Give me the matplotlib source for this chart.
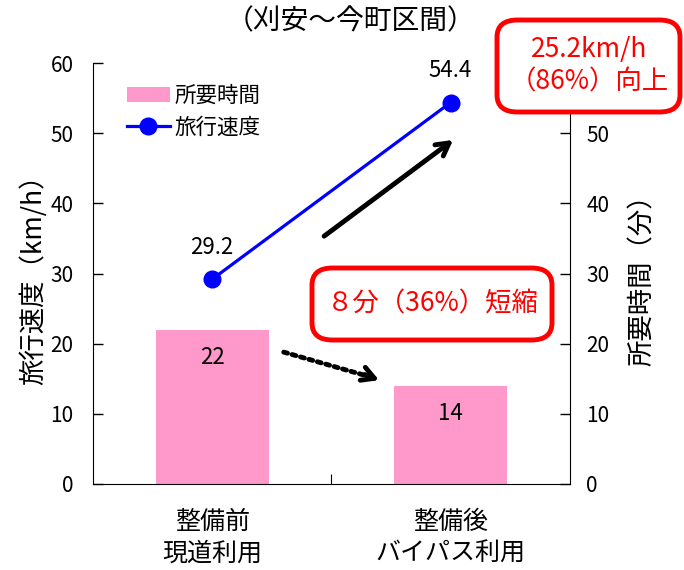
import matplotlib
matplotlib.use('Agg')
import matplotlib.pyplot as plt
import numpy as np
from matplotlib.patches import FancyBboxPatch

plt.rcParams['font.family'] = ['Noto Sans CJK JP', 'DejaVu Sans']

# section data
categories = ['整備前\n現道利用', '整備後\nバイパス利用']
travel_time = [22, 14]          # 所要時間 (分)
travel_speed = [29.2, 54.4]     # 旅行速度 (km/h)

pink = '#FF99CC'
blue = '#0000FF'
red = '#FF0000'

fig = plt.figure(figsize=(6.84, 5.70), dpi=100)
ax = fig.add_axes([0.136, 0.151, 0.697, 0.738])
ax2 = ax.twinx()

x = np.arange(len(categories))

# bars on the right axis, line on the left axis
bars = ax2.bar(x, travel_time, width=0.475, color=pink, label='所要時間', zorder=1)
line, = ax.plot(x, travel_speed, color=blue, lw=2.3, marker='o', markersize=12,
                label='旅行速度', zorder=3)
ax.set_zorder(ax2.get_zorder() + 1)
ax.patch.set_visible(False)

for xi, v in zip(x, travel_time):
    ax2.text(xi, v - 4, f'{v}', ha='center', va='center', fontsize=16)
for xi, v in zip(x, travel_speed):
    ax.text(xi, v + 4.5, f'{v}', ha='center', va='center', fontsize=16)

for a in (ax, ax2):
    a.set_ylim(0, 60)
    a.set_yticks(range(0, 61, 10))
    a.tick_params(axis='y', direction='in', length=7, labelsize=15, width=1)
    a.spines['top'].set_visible(False)
# the top right label sits under the callout box
ax2.set_yticklabels([str(t) for t in range(0, 60, 10)] + [''])
ax.set_xlim(-0.5, 1.5)
ax.set_xticks([0.5])
ax.set_xticklabels([''])
ax.tick_params(axis='x', direction='in', length=7)
ax.tick_params(axis='y', pad=14)
ax2.tick_params(axis='y', pad=12)
ax.spines['right'].set_visible(False)
ax2.spines['left'].set_visible(False)
ax2.spines['bottom'].set_visible(False)

for xi, lab in zip(x, categories):
    ax.text(xi, -3.6, lab, ha='center', va='top', fontsize=18, linespacing=1.25)

ax.set_ylabel('旅行速度（km/h）', fontsize=19, labelpad=2)
ax2.set_ylabel('所要時間（分）', fontsize=19, labelpad=14)

fig.text(0.513, 0.962, '（刈安～今町区間）', ha='center', va='center', fontsize=20)

ax.legend([bars, line], ['所要時間', '旅行速度'], loc='upper left',
          bbox_to_anchor=(0.03, 0.995), frameon=False, fontsize=15.5,
          handlelength=2.0, handletextpad=0.2, labelspacing=0.45)

# change arrows
ax.annotate('', xy=(1.02, 49.3), xytext=(0.46, 35.1),
            arrowprops=dict(arrowstyle='->,head_length=0.9,head_width=0.5',
                            color='black', lw=3.5))
ax.annotate('', xy=(0.66, 15.3), xytext=(0.30, 18.8),
            arrowprops=dict(arrowstyle='-', color='black', lw=3.5,
                            linestyle=(0, (0.8, 1.0)), shrinkA=0, shrinkB=0))
ax.annotate('', xy=(0.70, 14.8), xytext=(0.64, 15.6),
            arrowprops=dict(arrowstyle='->,head_length=0.9,head_width=0.5',
                            color='black', lw=3.5, shrinkA=0, shrinkB=0))

# callout boxes
for (x0, y0, w, h) in [(497, 458, 183, 92), (312, 230, 240, 72)]:
    box = FancyBboxPatch((x0 / 684, y0 / 570), w / 684, h / 570,
                         boxstyle='round,pad=0,rounding_size=0.03',
                         transform=fig.transFigure, fc='white', ec=red, lw=3.5,
                         zorder=5)
    fig.patches.append(box)
fig.text(589 / 684, 504 / 570, '25.2km/h\n（86%）向上', ha='center', va='center',
         fontsize=19, color=red, linespacing=1.25, zorder=6)
fig.text(433 / 684, 266 / 570, '８分（36%）短縮', ha='center', va='center',
         fontsize=19, color=red, zorder=6)

fig.savefig('out.png', dpi=100)
